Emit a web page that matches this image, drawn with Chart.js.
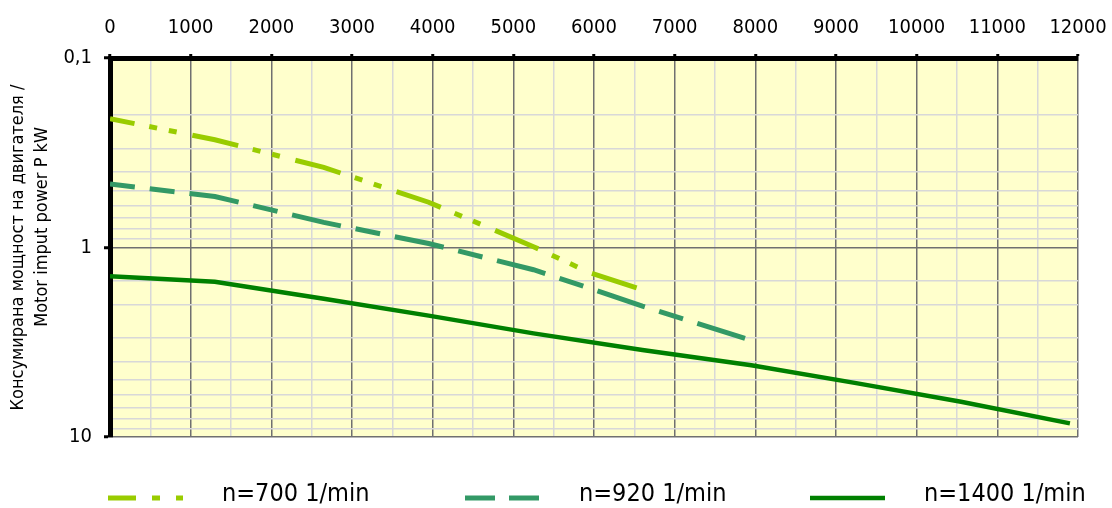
<!DOCTYPE html>
<html>
<head>
<meta charset="utf-8">
<script src="https://cdn.jsdelivr.net/npm/chart.js@4.4.1/dist/chart.umd.min.js"></script>
<style>
  html, body { margin: 0; padding: 0; background: #fff; }
  #wrap { width: 1112px; height: 508px; }
</style>
</head>
<body>
<div id="wrap"><canvas id="chart"></canvas></div>
<script>
// Values (rpm -> motor input power, kW)
const rpm700 = [0, 1300, 2650, 3950, 5250, 5950, 6650];
const p700 = [0.209, 0.27, 0.378, 0.577, 0.99, 1.36, 1.70];

const rpm920 = [0, 1300, 2650, 3950, 5250, 5900, 6600, 7950];
const p920 = [0.462, 0.538, 0.737, 0.953, 1.31, 1.615, 2.04, 3.09];

const rpm1400 = [0, 1300, 2650, 3950, 5250, 6600, 7950, 9250, 10550, 11900];
const p1400 = [1.416, 1.516, 1.866, 2.288, 2.839, 3.472, 4.178, 5.197, 6.519, 8.47];

const seriesLabels = ['n=700 1/min', 'n=920 1/min', 'n=1400 1/min'];

const yMajor = [0.1, 1, 10];
const yMajorLabels = ['0,1', '1', '10'];

const yTitle = ['Консумирана мощност на двигателя /', '        Motor imput power P kW'];

const FONT = "'DejaVu Sans Condensed', 'Liberation Sans', sans-serif";
const MAJOR = '#707070';
const MINOR = '#d8d8d8';

const toPts = (xs, ys) => xs.map((x, i) => ({ x: x, y: ys[i] }));
const isDecade = v => Math.abs(Math.log10(v) - Math.round(Math.log10(v))) < 1e-6;

// yellow plot area
const plotBg = {
    id: 'plotBg',
    beforeDraw(chart) {
        const { ctx, chartArea: a } = chart;
        ctx.save();
        ctx.fillStyle = '#ffffcc';
        ctx.fillRect(a.left, a.top, a.right - a.left, a.bottom - a.top);
        ctx.restore();
    }
};

// legend row under the plot
const legendRow = {
    id: 'legendRow',
    afterDraw(chart) {
        const { ctx, chartArea: a } = chart;
        const offs = [-2, 355, 700];
        const y = a.bottom + 61;
        chart.data.datasets.forEach((ds, i) => {
            const x0 = a.left + offs[i];
            ctx.save();
            ctx.strokeStyle = ds.borderColor;
            ctx.lineWidth = ds.borderWidth;
            ctx.lineCap = 'butt';
            ctx.setLineDash(ds.legendDash || []);
            ctx.beginPath();
            ctx.moveTo(x0, y);
            ctx.lineTo(x0 + 75, y);
            ctx.stroke();
            ctx.setLineDash([]);
            ctx.fillStyle = '#000';
            ctx.font = '25px ' + FONT;
            ctx.textBaseline = 'middle';
            ctx.fillText(ds.label, x0 + 114, y - 4);
            ctx.restore();
        });
    }
};

const ctx = document.getElementById('chart').getContext('2d');
new Chart(ctx, {
    type: 'line',
    data: {
        datasets: [
            { label: seriesLabels[0], data: toPts(rpm700, p700), borderColor: '#99cc00', borderWidth: 5,
              borderDash: [47, 15, 8, 12, 8, 16], borderDashOffset: 22, legendDash: [28, 16, 8, 16, 8] },
            { label: seriesLabels[1], data: toPts(rpm920, p920), borderColor: '#339966', borderWidth: 5,
              borderDash: [25, 15, 50, 15], borderDashOffset: 65, legendDash: [30, 14, 30] },
            { label: seriesLabels[2], data: toPts(rpm1400, p1400), borderColor: '#008000', borderWidth: 4.5 }
        ]
    },
    options: {
        responsive: true, maintainAspectRatio: false, animation: false,
        layout: { padding: { left: 0, top: 0, right: 34, bottom: 71 } },
        elements: { point: { radius: 0 }, line: { tension: 0, fill: false, borderCapStyle: 'butt' } },
        plugins: { legend: { display: false }, tooltip: { enabled: false } },
        scales: {
            x: {
                type: 'linear', position: 'top', min: 0, max: 12000,
                afterFit: s => { s.height = 58; s.paddingLeft = 0; s.paddingRight = 0; },
                ticks: {
                    stepSize: 500, autoSkip: false, maxRotation: 0, padding: 14, color: '#000',
                    font: { family: FONT, size: 20 },
                    callback: v => (v % 1000 === 0 ? String(v) : '')
                },
                grid: {
                    color: c => (c.tick && c.tick.value % 1000 === 0 ? MAJOR : MINOR),
                    lineWidth: 1.5, tickLength: 4, tickWidth: 3,
                    tickColor: c => (c.tick && c.tick.value % 1000 === 0 ? '#000' : 'rgba(0,0,0,0)')
                },
                border: { color: '#000', width: 5 }
            },
            y: {
                type: 'logarithmic', reverse: true, min: 0.1, max: 10,
                afterFit: s => { s.width = 110; s.paddingTop = 0; s.paddingBottom = 0; },
                ticks: {
                    autoSkip: false, padding: 12, color: '#000',
                    font: { family: FONT, size: 20 },
                    callback: v => {
                        const i = yMajor.findIndex(m => Math.abs(m - v) < 1e-9);
                        return i >= 0 ? yMajorLabels[i] : '';
                    }
                },
                title: {
                    display: true, text: yTitle, color: '#000',
                    font: { family: FONT, size: 18, lineHeight: 1.33 },
                    padding: { top: 6, bottom: 0 }
                },
                grid: {
                    color: c => (c.tick && isDecade(c.tick.value) ? MAJOR : MINOR),
                    lineWidth: 1.5, tickLength: 6, tickWidth: 3,
                    tickColor: c => (c.tick && isDecade(c.tick.value) ? '#000' : 'rgba(0,0,0,0)')
                },
                border: { color: '#000', width: 5 }
            }
        }
    },
    plugins: [plotBg, legendRow]
});
</script>
</body>
</html>
